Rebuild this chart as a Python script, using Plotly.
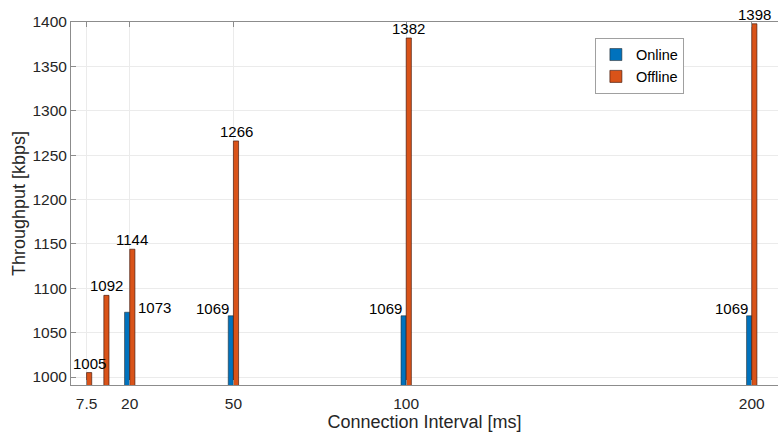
import plotly.graph_objects as go

intervals = [7.5, 12.5, 20, 50, 100, 200]
online = [None, None, 1073, 1069, 1069, 1069]
offline = [1005, 1092, 1144, 1266, 1382, 1398]
tick_vals = [7.5, 20, 50, 100, 200]
tick_text = ["7.5", "20", "50", "100", "200"]

BW = 1.5
FONT = "Arial, 'Liberation Sans', Helvetica, sans-serif"
LBL = 15

fig = go.Figure()
fig.add_trace(go.Bar(
    x=intervals, y=online, name="Online", width=BW, offset=-BW,
    marker=dict(color="#0072BD", line=dict(color="rgba(40,40,40,0.7)", width=0.8)),
    base=0,
))
fig.add_trace(go.Bar(
    x=intervals, y=offline, name="Offline", width=BW, offset=0,
    marker=dict(color="#D95319", line=dict(color="rgba(60,20,10,0.8)", width=0.8)),
    base=0,
))

ann = []
for xv, yv in zip(intervals, offline):
    ann.append(dict(x=xv + BW / 2, y=yv, text=str(yv), showarrow=False,
                    xanchor="center", yanchor="bottom", yshift=-1,
                    font=dict(size=LBL, color="#000", family=FONT)))
for xv, yv in zip(intervals, online):
    if yv is None:
        continue
    if xv == 20:
        ann.append(dict(x=xv + BW, y=yv, text=str(yv), showarrow=False,
                        xanchor="left", yanchor="bottom", xshift=1, yshift=-6,
                        font=dict(size=LBL, color="#000", family=FONT)))
    else:
        ann.append(dict(x=xv - BW, y=yv, text=str(yv), showarrow=False,
                        xanchor="right", yanchor="bottom", xshift=3, yshift=-3,
                        font=dict(size=LBL, color="#000", family=FONT)))

fig.update_layout(
    width=778, height=433,
    margin=dict(l=71, r=0, t=22, b=48),
    paper_bgcolor="white", plot_bgcolor="white",
    barmode="overlay",
    font=dict(family=FONT, size=16, color="#262626"),
    annotations=ann,
    showlegend=True,
    legend=dict(x=0.741, y=0.957, xanchor="left", yanchor="top",
                bordercolor="#a0a0a0", borderwidth=1, bgcolor="white",
                font=dict(size=14.5, color="#000", family=FONT),
                tracegroupgap=0, itemwidth=30),
)
fig.update_xaxes(
    range=[3, 207.6], tickvals=tick_vals, ticktext=tick_text,
    showgrid=True, gridcolor="#ebebeb", gridwidth=1,
    showline=True, linecolor="#8c8c8c", linewidth=1, mirror="ticks",
    ticks="inside", ticklen=5, tickcolor="#8c8c8c",
    ticklabelstandoff=4,
    tickfont=dict(size=15.5, color="#262626", family=FONT),
    title=dict(text="Connection Interval [ms]", font=dict(size=18, color="#262626", family=FONT), standoff=0),
    zeroline=False,
)
fig.update_yaxes(
    range=[991, 1400], tickvals=list(range(1000, 1401, 50)),
    showgrid=True, gridcolor="#ebebeb", gridwidth=1,
    showline=True, linecolor="#8c8c8c", linewidth=1, mirror=False,
    ticks="inside", ticklen=5, tickcolor="#8c8c8c",
    tickfont=dict(size=15.5, color="#262626", family=FONT),
    title=dict(text="Throughput [kbps]", font=dict(size=18, color="#262626", family=FONT), standoff=2),
    zeroline=False,
)

fig.write_html("out.html")
